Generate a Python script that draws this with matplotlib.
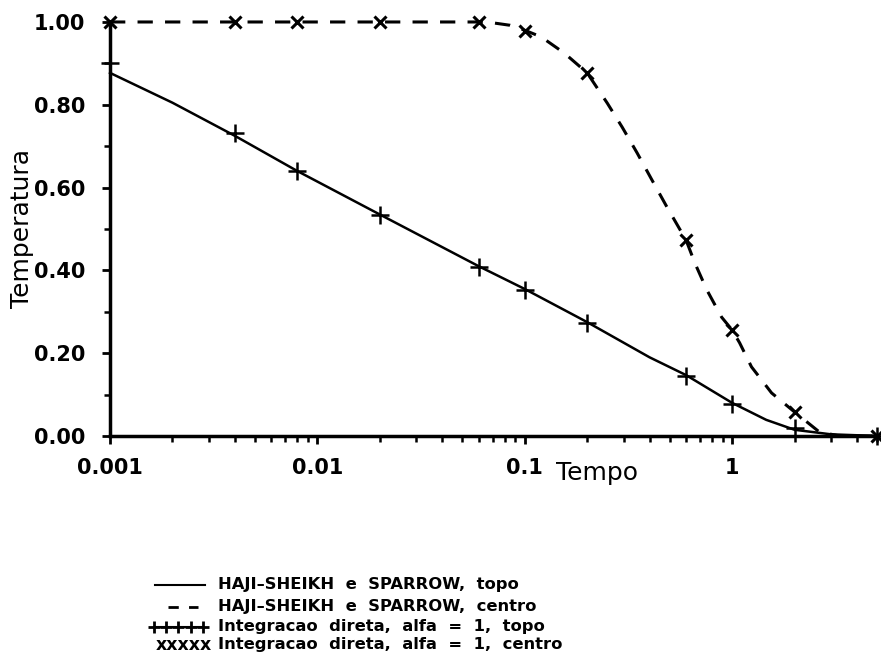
import matplotlib
matplotlib.use("Agg")
import matplotlib.pyplot as plt
from matplotlib.lines import Line2D
from matplotlib.ticker import FixedLocator, FixedFormatter, LogLocator, NullFormatter

# solid curve: HAJI-SHEIKH e SPARROW, topo
t_topo = [0.001, 0.002, 0.004, 0.008, 0.02, 0.06, 0.1, 0.2, 0.4, 0.6, 1.0, 1.46, 2.0, 3.0, 5.0]
T_topo = [0.877, 0.805, 0.725, 0.64, 0.535, 0.41, 0.355, 0.275, 0.19, 0.147, 0.08, 0.039, 0.015, 0.004, 0.0]

# dashed curve: HAJI-SHEIKH e SPARROW, centro
t_centro = [0.001, 0.06, 0.07, 0.085, 0.1, 0.12, 0.155, 0.2, 0.25, 0.295, 0.348, 0.411, 0.485,
            0.6, 0.661, 0.755, 0.89, 1.0, 1.087, 1.24, 1.55, 2.0, 2.63, 3.3, 5.0]
T_centro = [1.0, 1.0, 0.998, 0.992, 0.98, 0.964, 0.925, 0.877, 0.804, 0.746, 0.684, 0.618, 0.553,
            0.473, 0.418, 0.353, 0.287, 0.256, 0.225, 0.167, 0.104, 0.058, 0.01, 0.0, 0.0]

# integracao direta (markers)
t_int = [0.001, 0.004, 0.008, 0.02, 0.06, 0.1, 0.2, 0.6, 1.0, 2.0, 5.0]
T_int_topo = [0.90, 0.732, 0.64, 0.534, 0.408, 0.353, 0.273, 0.145, 0.077, 0.02, 0.0]
T_int_centro = [1.0, 1.0, 1.0, 1.0, 1.0, 0.978, 0.877, 0.473, 0.256, 0.058, 0.0]

yticks = [0.0, 0.2, 0.4, 0.6, 0.8, 1.0]
ytick_labels = ["0.00", "0.20", "0.40", "0.60", "0.80", "1.00"]
xticks = [0.001, 0.01, 0.1, 1]
xtick_labels = ["0.001", "0.01", "0.1", "1"]

legend_labels = [
    "HAJI\u2013SHEIKH  e  SPARROW,  topo",
    "HAJI\u2013SHEIKH  e  SPARROW,  centro",
    "Integracao  direta,  alfa  =  1,  topo",
    "Integracao  direta,  alfa  =  1,  centro",
]

plt.rcParams["font.family"] = "DejaVu Sans"

fig = plt.figure(figsize=(8.81, 6.64), dpi=100)
ax = fig.add_axes([0.1249, 0.3434, 0.8706, 0.6235])

ax.plot(t_topo, T_topo, "k-", lw=1.8, clip_on=False)
ax.plot(t_centro, T_centro, "k--", lw=2.2, dashes=(5, 4), clip_on=False)
ax.plot(t_int, T_int_topo, "k+", ms=13, mew=1.8, ls="none", clip_on=False)
ax.plot(t_int, T_int_centro, "kx", ms=9, mew=2.2, ls="none", clip_on=False)

ax.set_xscale("log")
ax.set_xlim(0.001, 5)
ax.set_ylim(0, 1.0)

ax.spines["top"].set_visible(False)
ax.spines["right"].set_visible(False)
ax.spines["left"].set_linewidth(2.5)
ax.spines["bottom"].set_linewidth(2.5)

ax.yaxis.set_major_locator(FixedLocator(yticks))
ax.yaxis.set_major_formatter(FixedFormatter(ytick_labels))
ax.yaxis.set_minor_locator(FixedLocator([0.1, 0.3, 0.5, 0.7, 0.9]))
ax.xaxis.set_major_locator(FixedLocator(xticks))
ax.xaxis.set_major_formatter(FixedFormatter(xtick_labels))
ax.xaxis.set_minor_locator(LogLocator(base=10, subs=range(2, 10)))
ax.xaxis.set_minor_formatter(NullFormatter())

ax.tick_params(axis="both", which="major", direction="out", length=6, width=2,
               labelsize=15, pad=10)
ax.tick_params(axis="y", which="major", pad=12)
ax.tick_params(axis="both", which="minor", direction="out", length=4, width=1.8)
for lab in ax.get_xticklabels() + ax.get_yticklabels():
    lab.set_fontweight("bold")

ax.set_ylabel("Temperatura", fontsize=18, labelpad=0)
fig.text(0.678, 0.288, "Tempo", fontsize=18, ha="center", va="center")

# legend drawn by hand below the plot
x_text = 0.2474
ys = [0.881, 0.914, 0.944, 0.971]
for y, label in zip(ys, legend_labels):
    fig.text(x_text, 1 - y, label, fontsize=11.8, fontweight="bold",
             va="center", ha="left")

fig.add_artist(Line2D([0.176, 0.233], [1 - ys[0], 1 - ys[0]], color="k", lw=1.5))
fig.add_artist(Line2D([0.1907, 0.2247], [1 - ys[1], 1 - ys[1]], color="k", lw=2.0,
                      ls="--", dashes=(3.7, 3.7)))
plus_x = [0.175 + 0.0138 * i for i in range(5)]
fig.add_artist(Line2D(plus_x, [1 - ys[2]] * 5, color="k", lw=1.5, marker="+",
                      ms=9, mew=2.0))
fig.text(0.2405, 1 - ys[3], "xxxxx", fontsize=12.5, fontweight="bold",
         va="center", ha="right")

fig.savefig("out.png", dpi=100)
